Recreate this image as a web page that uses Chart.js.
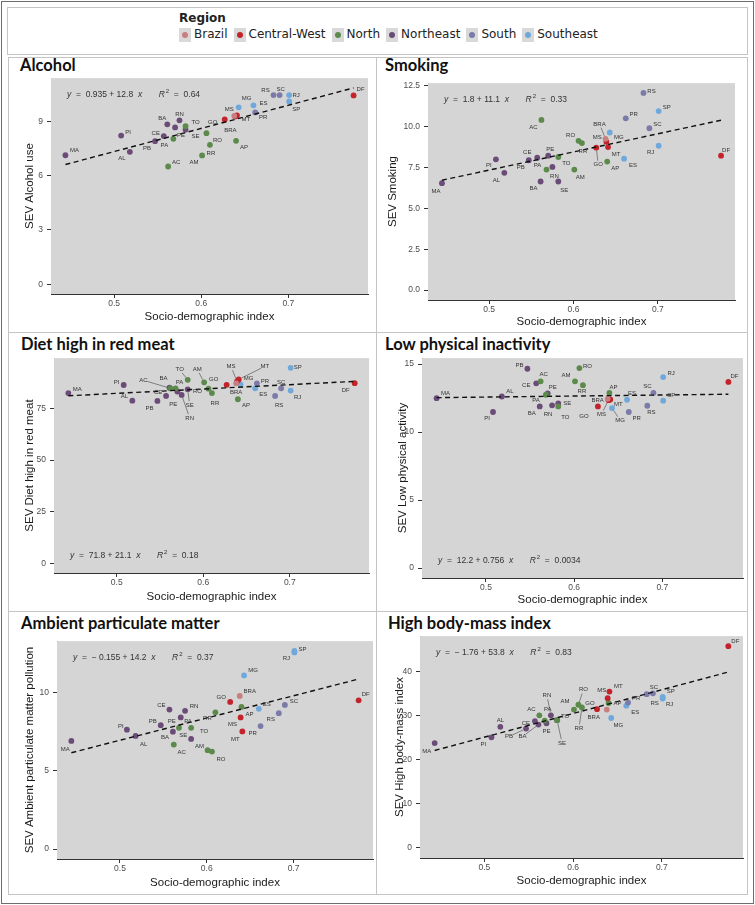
<!DOCTYPE html>
<html>
<head>
<meta charset="utf-8">
<script src="https://cdn.jsdelivr.net/npm/chart.js@4.4.0/dist/chart.umd.min.js"></script>
<style>
  body { margin: 0; background: #fff; }
  #frame { position: relative; width: 755px; height: 905px; overflow: hidden; background: #fff; }
  .line { position: absolute; background: #c4c4c4; }
  .box { position: absolute; box-sizing: border-box; border: 1px solid #c4c4c4; }
  .ptitle { position: absolute; font-family: Lato, sans-serif; font-weight: bold; font-size: 16.5px; line-height: 20px; color: #111; white-space: nowrap; }
  canvas { position: absolute; }
  #legend { position: absolute; left: 179px; top: 11px; font-family: "DejaVu Sans", sans-serif; font-size: 12px; color: #222; }
  #legend .head { font-weight: bold; line-height: 15px; }
  #legend .items { display: flex; align-items: center; margin-top: 1px; line-height: 15px; }
  #legend .key { width: 12px; height: 14px; background: #d9d9d9; position: relative; margin-right: 3px; }
  #legend .key i { position: absolute; left: 3px; top: 4px; width: 6px; height: 6px; border-radius: 50%; }
  #legend .lab { margin-right: 6px; }
</style>
</head>
<body>
<div id="frame">
  <div class="box" style="left:1px;top:1px;width:753px;height:903px;border-color:#6e6e6e"></div>
  <div class="box" style="left:7px;top:7px;width:741px;height:48px"></div>
  <div class="box" style="left:8px;top:57px;width:740px;height:838px"></div>
  <div class="line" style="left:376px;top:57px;width:1px;height:838px"></div>
  <div class="line" style="left:8px;top:332px;width:740px;height:1px"></div>
  <div class="line" style="left:8px;top:611px;width:740px;height:1px"></div>
  <div id="legend">
    <div class="head">Region</div>
    <div class="items" id="legendItems"></div>
  </div>
</div>
<script>
// states, in the same order as every value array below
const states = ['AC','AL','AM','AP','BA','BRA','CE','DF','ES','GO','MA','MG','MS','MT',
                'PA','PB','PE','PI','PR','RJ','RN','RO','RR','RS','SC','SE','SP','TO'];
const regionOf = ['North','Northeast','North','North','Northeast','Brazil','Northeast','Central-West',
                  'Southeast','Central-West','Northeast','Southeast','Central-West','Central-West',
                  'North','Northeast','Northeast','Northeast','South','Southeast','Northeast','North',
                  'North','South','South','Northeast','Southeast','North'];
const sdi = [0.562,0.518,0.601,0.640,0.561,0.638,0.557,0.775,0.660,0.627,0.444,0.643,0.639,0.641,
             0.568,0.547,0.570,0.508,0.662,0.701,0.575,0.606,0.610,0.683,0.690,0.582,0.701,0.582];

const alcoholUse  = [6.51,7.32,7.12,7.93,8.84,9.31,8.19,10.44,9.89,9.11,7.13,9.78,9.28,9.33,
                     8.04,7.91,8.67,8.22,9.50,10.46,9.06,8.35,7.71,10.46,10.46,8.55,10.11,8.74];
const smoking     = [10.42,7.18,7.38,7.87,6.65,9.26,8.11,8.23,8.05,8.72,6.55,9.65,9.08,8.76,
                     7.38,7.95,8.23,8.01,10.52,8.84,7.54,9.14,9.00,12.07,9.91,6.65,10.96,8.15];
const redMeat     = [84.8,78.8,87.7,79.5,85.1,87.2,81.1,87.3,84.8,86.5,82.5,86.7,88.1,89.1,
                     84.8,78.7,83.2,86.4,87.2,83.7,81.6,84.6,82.5,81.1,84.8,84.3,94.7,88.9];
const lowActivity = [13.74,12.62,13.74,12.89,11.89,12.45,13.59,13.69,12.38,11.89,12.50,11.77,12.35,12.40,
                     12.75,14.66,12.85,11.48,11.48,14.05,11.97,14.71,13.45,11.94,12.89,12.11,12.31,11.89];
const particulate = [6.67,7.22,6.31,9.07,7.49,9.77,8.90,9.49,8.95,9.39,6.90,11.08,8.40,7.51,
                     7.74,7.91,8.40,7.62,7.85,12.55,8.82,6.22,8.73,8.67,9.20,7.03,12.64,7.74];
const bodyMass    = [30.1,27.5,31.4,32.9,28.0,31.4,28.8,45.8,32.3,31.5,23.8,29.5,34.0,35.5,
                     28.9,27.1,28.3,25.1,33.0,33.9,30.1,32.5,31.9,34.9,35.1,29.0,34.3,29.0];

// fitted lines as printed: [intercept, slope, R2]
const alcoholFit = [0.935, 12.8, 0.64];
const smokingFit = [1.8, 11.1, 0.33];
const redMeatFit = [71.8, 21.1, 0.18];
const activityFit = [12.2, 0.756, 0.0034];
const particulateFit = [-0.155, 14.2, 0.37];
const bodyMassFit = [-1.76, 53.8, 0.83];

const xTicks = [0.5, 0.6, 0.7];
const alcoholTicks = [0, 3, 6, 9];
const smokingTicks = [0, 2.5, 5, 7.5, 10, 12.5];
const redMeatTicks = [0, 25, 50, 75];
const activityTicks = [0, 5, 10, 15];
const particulateTicks = [0, 5, 10];
const bodyMassTicks = [0, 10, 20, 30, 40];

const regions = ['Brazil','Central-West','North','Northeast','South','Southeast'];
const regionColors = {
  'Brazil': '#c97f80', 'Central-West': '#c3232b', 'North': '#5b8a4b',
  'Northeast': '#6b4b78', 'South': '#7b7aa9', 'Southeast': '#6fa9db'
};

// label nudges in px: [dx, dy, leader]
const alcoholNudge = {MA:[9,-5],PI:[7,-3],AL:[-8,7],PB:[-8,7],CE:[-8,-3],PA:[-9,7],BA:[-5,-6],RN:[0,-6],
  PE:[6,8],TO:[10,-4],SE:[10,7],AC:[8,-4],AM:[-8,7],RR:[1,9],RO:[11,7],GO:[-12,3],BRA:[-4,14],MS:[-6,-7],
  MT:[9,4],AP:[8,7],MG:[8,-9],ES:[10,-2],PR:[8,5],RS:[-8,-5],SC:[1,-6],RJ:[7,0],SP:[7,8],DF:[7,-6]};
const smokingNudge = {RS:[8,-2],SP:[8,-4],PR:[8,-4],SC:[8,-4],AC:[-8,7],BRA:[-6,-15,1],RO:[-8,-5],MS:[-9,-4],
  MG:[9,5],RR:[1,8],CE:[-10,-5],PE:[2,-6],PI:[-7,6],PB:[-8,7],PA:[-9,-4],TO:[8,6],RN:[2,9],AL:[-8,7],
  AM:[6,8],BA:[-7,7],SE:[6,9],MA:[-6,8],GO:[2,17,1],MT:[8,7],AP:[8,7],ES:[9,7],RJ:[-8,7],DF:[5,-5]};
const redMeatNudge = {MA:[9,-4],PI:[-7,-3],AL:[-8,-4],PB:[-8,7],CE:[-8,-4],PE:[-4,13],BA:[-6,-9],AC:[-27,-8,1],
  PA:[4,-6],TO:[-8,-10,1],AM:[-7,-13,1],GO:[-13,-5],RO:[-11,3],SE:[2,16,1],RN:[8,23,1],RR:[3,10],
  MS:[-6,-15,1],MT:[26,-13,1],MG:[8,-6],BRA:[0,9],AP:[8,6],PR:[8,-2],ES:[8,6],SC:[0,-6],RS:[4,9],
  RJ:[7,7],SP:[7,-1],DF:[-9,7]};
const activityNudge = {MA:[9,-5],AL:[8,-5],PI:[-6,6],PB:[-8,-3],AC:[3,-7],CE:[-10,2],PE:[5,-6],PA:[-10,6],
  BA:[-8,7],RN:[-4,9],SE:[9,0],TO:[7,11],AM:[-9,-6],RO:[8,-2],RR:[-1,6],AP:[4,-5],BRA:[-10,2],GO:[-14,10],
  MS:[-7,14,1],MT:[8,5],MG:[8,12,1],ES:[5,-6],PR:[8,6],RS:[4,7],SC:[-6,-6],SP:[8,-5],RJ:[8,-4],DF:[6,-6]};
const particulateNudge = {MA:[-6,8],PI:[-6,-3],AL:[8,8],PB:[-8,-4],CE:[-8,-4],RN:[9,-5],PE:[-9,4],PA:[9,-6],
  BA:[-8,6],SE:[-8,-4],TO:[13,4],AC:[8,8],AM:[-8,-4],RO:[9,8],RR:[-8,6],GO:[-9,-5],BRA:[10,-5],AP:[8,7],
  MS:[-8,7],MT:[-7,8],PR:[-8,7],MG:[9,-5],ES:[8,-4],RS:[-8,6],SC:[9,-4],SP:[8,-2],RJ:[-8,6],DF:[7,-6]};
const bodyMassNudge = {MA:[-8,8],PI:[-8,7],AL:[0,-6],PB:[-17,8,1],CE:[-9,2],BA:[-16,12,1],AC:[-8,-6],PA:[3,-11],
  RN:[-4,-20,1],PE:[0,8],TO:[8,-4],SE:[5,23,1],AM:[-9,-8],RO:[5,-15,1],RR:[-3,21,1],GO:[-7,-6],BRA:[-13,8],
  MS:[-6,-8],MT:[9,-5],AP:[9,0],MG:[7,7],ES:[9,7],PR:[8,-4],RS:[8,9],SC:[1,-6],SP:[8,-5],RJ:[7,6],DF:[7,-5]};

// layout: plot box [left, top, right, bottom], axis title centres, panel title anchor
const panels = [
  {title:'Alcohol', yTitle:'SEV Alcohol use', values:alcoholUse, fit:alcoholFit, yTicks:alcoholTicks,
   nudge:alcoholNudge, eq:'top', plot:[51,77,368,294], yTitleX:30, xTitleY:317, head:[20,65]},
  {title:'Smoking', yTitle:'SEV Smoking', values:smoking, fit:smokingFit, yTicks:smokingTicks, decimals:1,
   nudge:smokingNudge, eq:'top', plot:[428,82,735,300], yTitleX:393, xTitleY:322, head:[385,65]},
  {title:'Diet high in red meat', yTitle:'SEV Diet high in red meat', values:redMeat, fit:redMeatFit, yTicks:redMeatTicks,
   nudge:redMeatNudge, eq:'bottom', plot:[54,357,369,573], yTitleX:30, xTitleY:597, head:[21,344]},
  {title:'Low physical inactivity', yTitle:'SEV Low physical activity', values:lowActivity, fit:activityFit, yTicks:activityTicks,
   nudge:activityNudge, eq:'bottom', plot:[422,357,743,578], yTitleX:403, xTitleY:600, head:[385,344]},
  {title:'Ambient particulate matter', yTitle:'SEV Ambient particulate matter pollution', values:particulate, fit:particulateFit,
   yTicks:particulateTicks, nudge:particulateNudge, eq:'top', plot:[57,640,373,859], yTitleX:30, xTitleY:883, head:[21,623]},
  {title:'High body-mass index', yTitle:'SEV High body-mass index', values:bodyMass, fit:bodyMassFit, yTicks:bodyMassTicks,
   nudge:bodyMassNudge, eq:'top', plot:[420,635,743,858], yTitleX:400, xTitleY:881, head:[388,623]}
];

// legend
const legendItems = document.getElementById('legendItems');
regions.forEach(r => {
  legendItems.insertAdjacentHTML('beforeend',
    `<span class="key"><i style="background:${regionColors[r]}"></i></span><span class="lab">${r}</span>`);
});

const AXIS_FONT = {family: '"Liberation Sans", Arial, sans-serif', size: 11.5};
const TICK_FONT = {family: '"Liberation Sans", Arial, sans-serif', size: 8.5};
const HALF_LH = 7;
const PAD = 8;

const sdiMin = Math.min(...sdi), sdiMax = Math.max(...sdi);
const xMin = sdiMin - 0.05 * (sdiMax - sdiMin);
const xMax = sdiMax + 0.05 * (sdiMax - sdiMin);

function fmtNum(v) {
  return v < 0 ? '\u2212 ' + Math.abs(v) : String(v);
}

function drawEquation(ctx, x0, y0, fit) {
  const parts = [
    ['y', true], ['  =  ' + fmtNum(fit[0]) + ' + ' + fit[1] + '  ', false], ['x', true],
    ['       ', false], ['R', true], ['2', false, true], ['  =  ' + fit[2], false]
  ];
  let x = x0;
  ctx.textAlign = 'left';
  ctx.textBaseline = 'middle';
  ctx.fillStyle = '#333';
  parts.forEach(([t, ital, sup]) => {
    ctx.font = (ital ? 'italic ' : '') + (sup ? '6px' : '8.5px') + ' "Liberation Sans", Arial, sans-serif';
    ctx.fillText(t, x + (sup ? 1 : 0), y0 + (sup ? -4 : 0));
    x += ctx.measureText(t).width + (sup ? 1 : 0);
  });
}

function makeDecor(p) {
  return {
    id: 'decor',
    beforeDatasetsDraw(chart) {
      const {ctx, chartArea: a} = chart;
      ctx.save();
      ctx.fillStyle = '#d5d5d5';
      ctx.fillRect(a.left, a.top, a.right - a.left, a.bottom - a.top);
      ctx.restore();
    },
    afterDatasetsDraw(chart) {
      const {ctx, chartArea: a, scales: {x, y}} = chart;
      ctx.save();
      ctx.font = '6px "Liberation Sans", Arial, sans-serif';
      ctx.textAlign = 'center';
      ctx.textBaseline = 'middle';
      states.forEach((s, i) => {
        const px = x.getPixelForValue(sdi[i]);
        const py = y.getPixelForValue(p.values[i]);
        const n = p.nudge[s] || [7, -4];
        if (n[2]) {
          const d = Math.hypot(n[0], n[1]);
          ctx.strokeStyle = '#444';
          ctx.lineWidth = 0.6;
          ctx.beginPath();
          ctx.moveTo(px + n[0] * 3 / d, py + n[1] * 3 / d);
          ctx.lineTo(px + n[0] * (d - 4) / d, py + n[1] * (d - 4) / d);
          ctx.stroke();
        }
        ctx.fillStyle = '#333';
        ctx.fillText(s, px + n[0], py + n[1]);
      });
      const ey = p.eq === 'top' ? a.top + 17 : a.bottom - 17;
      drawEquation(ctx, a.left + 16, ey, p.fit);
      ctx.restore();
    }
  };
}

const frame = document.getElementById('frame');

panels.forEach(p => {
  const head = document.createElement('div');
  head.className = 'ptitle';
  head.textContent = p.title;
  head.style.left = p.head[0] + 'px';
  head.style.top = (p.head[1] - 10) + 'px';
  frame.appendChild(head);

  const [pl, pt, pr, pb] = p.plot;
  const cLeft = Math.round(p.yTitleX - HALF_LH);
  const cTop = pt - PAD;
  const cBottom = Math.round(p.xTitleY + HALF_LH);
  const yW = pl - cLeft;
  const xH = cBottom - pb;
  const cv = document.createElement('canvas');
  cv.width = pr - cLeft + PAD;
  cv.height = cBottom - cTop;
  cv.style.left = cLeft + 'px';
  cv.style.top = cTop + 'px';
  frame.appendChild(cv);

  const lineEnds = [sdiMin, sdiMax].map(v => ({x: v, y: p.fit[0] + p.fit[1] * v}));
  const yTop = Math.max(...p.values, ...lineEnds.map(d => d.y));

  const datasets = [{
    type: 'line',
    data: lineEnds,
    borderColor: '#111',
    borderWidth: 1.4,
    borderDash: [5, 3.5],
    pointRadius: 0,
    fill: false
  }];
  regions.forEach(r => {
    datasets.push({
      data: states.map((s, i) => ({x: sdi[i], y: p.values[i], r: regionOf[i]}))
                  .filter(d => d.r === r),
      backgroundColor: regionColors[r],
      borderWidth: 0,
      pointRadius: 2.9
    });
  });

  new Chart(cv, {
    type: 'scatter',
    data: {datasets},
    options: {
      responsive: false,
      animation: false,
      devicePixelRatio: 1,
      layout: {padding: {top: PAD, right: PAD, left: 0, bottom: 0}},
      plugins: {legend: {display: false}, tooltip: {enabled: false}},
      scales: {
        x: {
          type: 'linear', min: xMin, max: xMax,
          afterBuildTicks: s => { s.ticks = xTicks.map(v => ({value: v})); },
          afterFit: s => { s.height = xH; },
          grid: {drawOnChartArea: false, tickLength: 4, tickColor: '#333'},
          border: {color: '#333', width: 1},
          ticks: {font: TICK_FONT, color: '#4d4d4d', padding: 1, callback: v => v.toFixed(1)},
          title: {display: true, text: 'Socio-demographic index', font: AXIS_FONT, color: '#1a1a1a', padding: 0}
        },
        y: {
          type: 'linear', min: -0.05 * yTop, max: 1.05 * yTop,
          afterBuildTicks: s => { s.ticks = p.yTicks.map(v => ({value: v})); },
          afterFit: s => { s.width = yW; },
          grid: {drawOnChartArea: false, tickLength: 4, tickColor: '#333'},
          border: {color: '#333', width: 1},
          ticks: {font: TICK_FONT, color: '#4d4d4d', padding: 4,
                  callback: v => p.decimals ? v.toFixed(p.decimals) : String(v)},
          title: {display: true, text: p.yTitle, font: AXIS_FONT, color: '#1a1a1a', padding: 0}
        }
      }
    },
    plugins: [makeDecor(p)]
  });
});
</script>
</body>
</html>
